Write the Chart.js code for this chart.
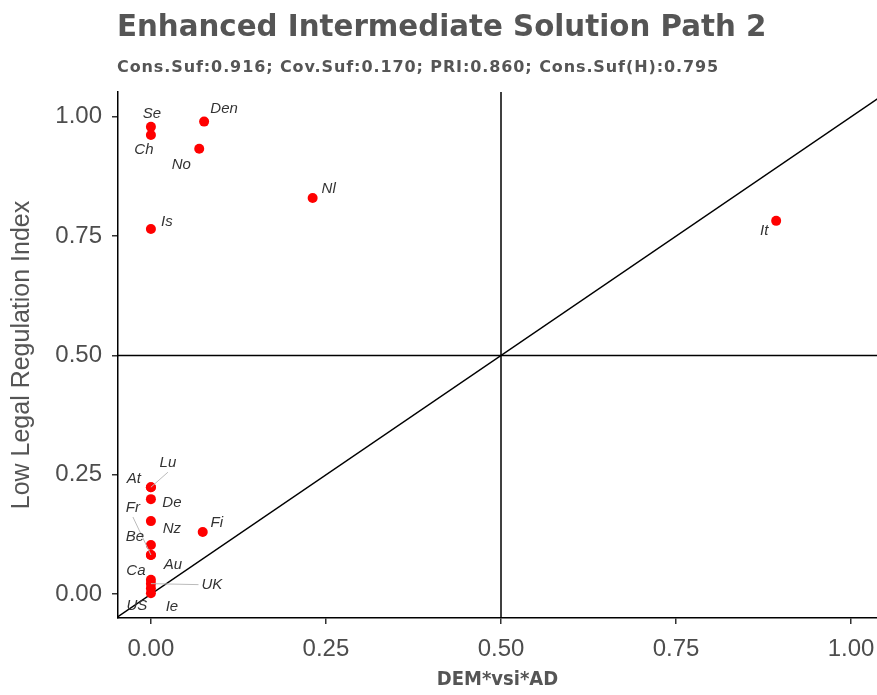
<!DOCTYPE html>
<html><head><meta charset="utf-8">
<script src="https://cdn.jsdelivr.net/npm/chart.js@4"></script>
<style>
body{margin:0;background:#fff;overflow:hidden;}
#wrap{position:relative;width:877px;height:695px;overflow:hidden;}
canvas{position:absolute;left:0;top:0;}
.t{position:absolute;left:117px;font-family:"DejaVu Sans";font-weight:bold;color:#555;white-space:nowrap;line-height:1;}
</style></head>
<body>
<div id="wrap">
<canvas id="c" width="882" height="695"></canvas>
<div class="t" id="title" style="top:12px;font-size:29.3px;">Enhanced Intermediate Solution Path 2</div>
<div class="t" id="sub" style="top:59px;font-size:16px;letter-spacing:0.9px;">Cons.Suf:0.916; Cov.Suf:0.170; PRI:0.860; Cons.Suf(H):0.795</div>
</div>
<script>
// ---- data ----
const caseLabels = ["Se","Ch","Den","No","Nl","Is","It","At","Lu","De","Fr","Nz","Be","Au","Ca","UK","US","Ie","Fi"];
const xValues    = [0.000,0.000,0.076,0.069,0.231,0.000,0.893,0.000,0.000,0.000,0.000,0.000,0.000,0.000,0.000,0.000,0.000,0.000,0.074];
const yValues    = [0.979,0.962,0.990,0.933,0.830,0.765,0.782,0.224,0.224,0.199,0.082,0.153,0.103,0.082,0.030,0.022,0.002,0.012,0.130];
const tickValues = [0,0.25,0.5,0.75,1];
const xTitle = "DEM*vsi*AD";
const yTitle = "Low Legal Regulation Index";

// ---- label placement (pixel offsets from each point, style only) ----
const labelOffsets = {
  Se:[1,-13], Ch:[-7,15], Den:[20,-13], No:[-18,16], Nl:[16,-9], Is:[16,-7], It:[-12,10],
  At:[-17,-8], Lu:[17,-24], De:[21,4], Fr:[-18,-47], Nz:[21,8], Be:[-16,-8], Au:[22,10],
  Ca:[-15,-9], UK:[61,1], US:[-14,13], Ie:[21,18], Fi:[14,-9]
};
const leaders = {Lu:true, Fr:true, UK:true};

const points = xValues.map((x,i)=>({x:x,y:yValues[i]}));

const refPlugin = {
  id:'refs',
  beforeDatasetsDraw(chart){
    const {ctx, chartArea:a, scales:{x,y}} = chart;
    ctx.save();
    ctx.beginPath(); ctx.rect(a.left,a.top,a.right-a.left,a.bottom-a.top); ctx.clip();
    ctx.strokeStyle='#000'; ctx.lineWidth=1.5;
    const xm=x.getPixelForValue(0.5), ym=y.getPixelForValue(0.5);
    ctx.beginPath(); ctx.moveTo(xm,a.top); ctx.lineTo(xm,a.bottom); ctx.stroke();
    ctx.beginPath(); ctx.moveTo(a.left,ym); ctx.lineTo(a.right,ym); ctx.stroke();
    const lo=Math.min(x.min,y.min), hi=Math.max(x.max,y.max)+0.02;
    ctx.beginPath(); ctx.moveTo(x.getPixelForValue(lo),y.getPixelForValue(lo));
    ctx.lineTo(x.getPixelForValue(hi),y.getPixelForValue(hi)); ctx.stroke();
    ctx.restore();
  },
  afterDatasetsDraw(chart){
    const {ctx, scales:{x,y}} = chart;
    ctx.save();
    ctx.font='italic 15px "Liberation Sans", Arial, sans-serif';
    ctx.fillStyle='#333'; ctx.textAlign='center'; ctx.textBaseline='middle';
    caseLabels.forEach((lab,i)=>{
      const px=x.getPixelForValue(xValues[i]), py=y.getPixelForValue(yValues[i]);
      const o=labelOffsets[lab]||[10,-10];
      const lx=px+o[0], ly=py+o[1];
      if(leaders[lab]){
        const w=ctx.measureText(lab).width/2+3;
        ctx.strokeStyle='#bbb'; ctx.lineWidth=1;
        ctx.beginPath();
        let sx=lx, sy=ly;
        if(Math.abs(o[0])>Math.abs(o[1])){ sx = lx - Math.sign(o[0])*w; }
        else { sy = ly - Math.sign(o[1])*9; }
        ctx.moveTo(sx,sy); ctx.lineTo(px,py); ctx.stroke();
      }
      ctx.fillText(lab,lx,ly);
    });
    ctx.restore();
  }
};

const tickFont = {family:'"Liberation Sans", Arial, sans-serif', size:24};

new Chart(document.getElementById('c'),{
  type:'scatter',
  data:{datasets:[{data:points, backgroundColor:'#ff0000', borderWidth:0, pointRadius:5, pointHoverRadius:5}]},
  options:{
    responsive:false, animation:false,
    layout:{padding:{top:92,left:0,right:0,bottom:0}},
    plugins:{legend:{display:false}, tooltip:{enabled:false}},
    scales:{
      x:{type:'linear', min:-0.047, max:1.037,
        afterBuildTicks(s){ s.ticks = tickValues.map(v=>({value:v})); },
        afterFit(s){ s.height=77; s.paddingLeft=0; s.paddingRight=0; },
        ticks:{callback:v=>Number(v).toFixed(2), font:tickFont, color:'#4d4d4d', padding:11, maxRotation:0},
        grid:{drawOnChartArea:false, drawTicks:true, tickLength:6, color:'#333', lineWidth:1.5},
        border:{color:'#000', width:1.5},
        title:{display:true, text:xTitle, font:{family:'"DejaVu Sans Condensed","DejaVu Sans"', size:20, weight:'bold'}, color:'#555', padding:{top:0,bottom:3}}
      },
      y:{type:'linear', min:-0.05, max:1.052,
        afterBuildTicks(s){ s.ticks = tickValues.map(v=>({value:v})); },
        afterFit(s){ s.width=118; s.paddingTop=0; s.paddingBottom=0; },
        ticks:{callback:v=>Number(v).toFixed(2), font:tickFont, color:'#4d4d4d', padding:10},
        grid:{drawOnChartArea:false, drawTicks:true, tickLength:6, color:'#333', lineWidth:1.5},
        border:{color:'#000', width:1.5},
        title:{display:true, text:yTitle, font:{family:'"Liberation Sans", Arial, sans-serif', size:25}, color:'#555', padding:{top:7,bottom:0}}
      }
    }
  },
  plugins:[refPlugin]
});
</script>
</body></html>
